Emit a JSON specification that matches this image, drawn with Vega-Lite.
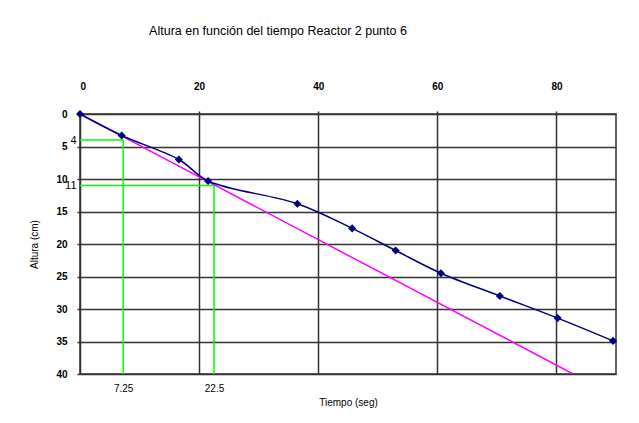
{
  "$schema": "https://vega.github.io/schema/vega-lite/v6.json",
  "width": 536,
  "height": 260,
  "autosize": "none",
  "padding": {"left": 80, "top": 114, "right": 23, "bottom": 49},
  "background": "white",
  "config": {
    "font": "Liberation Sans",
    "view": {"stroke": "#333333", "strokeWidth": 1.5},
    "axis": {"labelColor": "#000000", "titleColor": "#000000", "titleFontWeight": "normal", "domain": false}
  },
  "title": {
    "text": "Altura en función del tiempo Reactor 2 punto 6",
    "fontSize": 12.5,
    "fontWeight": "normal",
    "color": "#000000",
    "offset": 44,
    "dx": -70
  },
  "datasets": {
    "medidas": [
      {"tiempo": 0, "altura": 0},
      {"tiempo": 7, "altura": 3.3},
      {"tiempo": 16.6, "altura": 7},
      {"tiempo": 21.5, "altura": 10.3},
      {"tiempo": 36.5, "altura": 13.8},
      {"tiempo": 45.7, "altura": 17.6},
      {"tiempo": 53, "altura": 21},
      {"tiempo": 60.6, "altura": 24.5},
      {"tiempo": 70.5, "altura": 28},
      {"tiempo": 80.2, "altura": 31.4},
      {"tiempo": 89.5, "altura": 34.9}
    ],
    "ajuste": [
      {"tiempo": 0, "altura": 0},
      {"tiempo": 82.8, "altura": 40}
    ],
    "guias": [
      {"grupo": "a", "orden": 1, "tiempo": 0, "altura": 4},
      {"grupo": "a", "orden": 2, "tiempo": 7.25, "altura": 4},
      {"grupo": "a", "orden": 3, "tiempo": 7.25, "altura": 40},
      {"grupo": "b", "orden": 1, "tiempo": 0, "altura": 11},
      {"grupo": "b", "orden": 2, "tiempo": 22.5, "altura": 11},
      {"grupo": "b", "orden": 3, "tiempo": 22.5, "altura": 40}
    ]
  },
  "layer": [
    {
      "data": {"name": "guias"},
      "mark": {"type": "line", "color": "#00FF00", "strokeWidth": 1.5},
      "encoding": {
        "x": {
          "field": "tiempo", "type": "quantitative",
          "scale": {"domain": [0, 90], "nice": false},
          "axis": {
            "orient": "top", "values": [0, 20, 40, 60, 80], "title": null,
            "grid": true, "gridColor": "#333333", "gridWidth": 1.5, "gridOpacity": 1,
            "ticks": true, "tickSize": 3, "tickColor": "#333333", "tickWidth": 1.5,
            "labelPadding": 20, "labelFontSize": 10, "labelFontWeight": "bold"
          }
        },
        "y": {
          "field": "altura", "type": "quantitative",
          "scale": {"domain": [0, 40], "nice": false, "reverse": true},
          "axis": {
            "orient": "left", "values": [0, 5, 10, 15, 20, 25, 30, 35, 40],
            "title": "Altura (cm)", "titleFontSize": 10, "titlePadding": 16,
            "grid": true, "gridColor": "#333333", "gridWidth": 1.5, "gridOpacity": 1,
            "ticks": true, "tickSize": 3, "tickColor": "#333333", "tickWidth": 1.5,
            "labelPadding": 10, "labelFontSize": 10, "labelFontWeight": "bold"
          }
        },
        "detail": {"field": "grupo"},
        "order": {"field": "orden"}
      }
    },
    {
      "data": {"name": "ajuste"},
      "mark": {"type": "line", "color": "#FF00FF", "strokeWidth": 1.5, "clip": true},
      "encoding": {
        "x": {
          "field": "tiempo", "type": "quantitative",
          "axis": {
            "orient": "bottom", "values": [7.25, 22.5], "format": ".2~f", "title": "Tiempo (seg)",
            "titleFontSize": 10, "titlePadding": 4,
            "grid": false, "ticks": false, "labelPadding": 9, "labelFontSize": 10, "labelOverlap": false
          }
        },
        "y": {
          "field": "altura", "type": "quantitative",
          "axis": {
            "orient": "left", "values": [4, 11], "title": null,
            "grid": false, "ticks": false, "labelPadding": 4, "labelFontSize": 11, "labelOverlap": false
          }
        }
      }
    },
    {
      "data": {"name": "medidas"},
      "mark": {"type": "line", "color": "#000080", "strokeWidth": 1.5, "interpolate": "catmull-rom"},
      "encoding": {
        "x": {"field": "tiempo", "type": "quantitative", "axis": null},
        "y": {"field": "altura", "type": "quantitative", "axis": null}
      }
    },
    {
      "data": {"name": "medidas"},
      "mark": {"type": "point", "shape": "diamond", "filled": true, "color": "#000080", "opacity": 1, "size": 65},
      "encoding": {
        "x": {"field": "tiempo", "type": "quantitative", "axis": null},
        "y": {"field": "altura", "type": "quantitative", "axis": null}
      }
    }
  ],
  "resolve": {"axis": {"x": "independent", "y": "independent"}}
}
